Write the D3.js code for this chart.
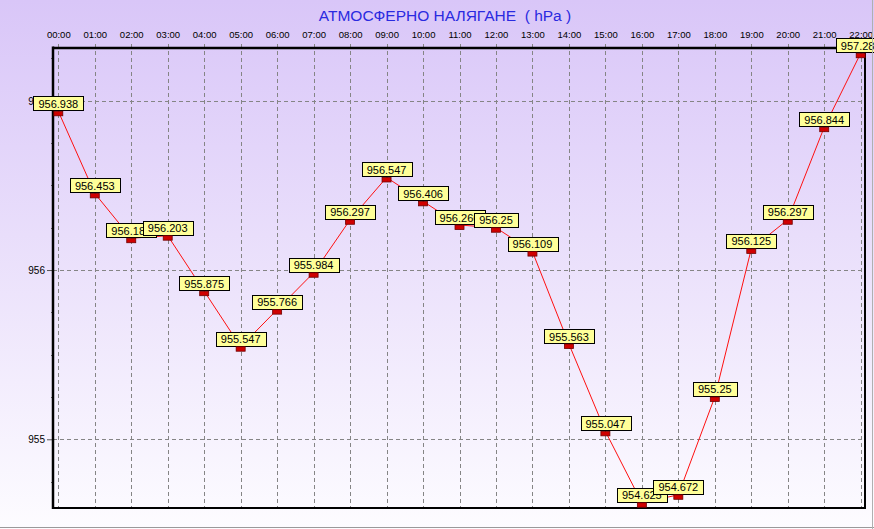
<!DOCTYPE html>
<html>
<head>
<meta charset="utf-8">
<script src="https://cdn.jsdelivr.net/npm/d3@7"></script>
<style>
    html, body { margin: 0; padding: 0; background: #fff; }
    svg { display: block; }
</style>
</head>
<body>
<div id="chart"></div>
<script>
// Hourly readings
const hours = [
    '00:00', '01:00', '02:00', '03:00', '04:00', '05:00', '06:00', '07:00',
    '08:00', '09:00', '10:00', '11:00', '12:00', '13:00', '14:00', '15:00',
    '16:00', '17:00', '18:00', '19:00', '20:00', '21:00', '22:00',
]
const pressure = [
    956.938, 956.453, 956.188, 956.203, 955.875, 955.547, 955.766, 955.984,
    956.297, 956.547, 956.406, 956.266, 956.25, 956.109, 955.563, 955.047,
    954.625, 954.672, 955.25, 956.125, 956.297, 956.844, 957.281,
]
const yTicks = [955, 956, 957]
const yMinorTicks = [954.75, 955.25, 955.5, 955.75, 956.25, 956.5, 956.75, 957.25]
const yDomain = [954.594, 957.312]
const title = 'АТМОСФЕРНО НАЛЯГАНЕ  ( hPa )'

const config = {
    w: 874,
    h: 529,
    plot: { left: 53, right: 865, top: 48, bottom: 508 },
    xInset: { left: 5.3, right: 4.3 }, // first/last hour sit a little inside the frame
    font: '"Liberation Sans", Arial, sans-serif',
}
const p = config.plot

const svg = d3
    .select('#chart')
    .append('svg')
    .attr('width', config.w)
    .attr('height', config.h)
    .style('font-family', config.font)

// Background gradient (lavender to white)
const grad = svg
    .append('defs')
    .append('linearGradient')
    .attr('id', 'bg')
    .attr('x1', 0).attr('y1', 0)
    .attr('x2', 0).attr('y2', 1)
grad.append('stop').attr('offset', '0%').attr('stop-color', '#d9c6f8')
grad.append('stop').attr('offset', '100%').attr('stop-color', '#fdfcff')

svg.append('rect')
    .attr('width', config.w)
    .attr('height', config.h)
    .attr('fill', 'url(#bg)')

// Scales
const x = d3
    .scalePoint()
    .domain(hours)
    .range([p.left + config.xInset.left, p.right - config.xInset.right])

const y = d3.scaleLinear().domain(yDomain).range([p.bottom, p.top])

// Title
svg.append('text')
    .attr('x', 445)
    .attr('y', 21)
    .attr('text-anchor', 'middle')
    .attr('fill', '#2a2ae0')
    .style('font-size', '15.5px')
    .style('white-space', 'pre')
    .text(title)

// Grid
const grid = svg.append('g')
    .attr('stroke', '#858585')
    .attr('stroke-width', 1)
    .attr('stroke-dasharray', '4,3')

grid.selectAll('line.v')
    .data(hours)
    .join('line')
    .attr('class', 'v')
    .attr('x1', (d) => Math.round(x(d)) + 0.5)
    .attr('x2', (d) => Math.round(x(d)) + 0.5)
    .attr('y1', p.top - 4)
    .attr('y2', p.bottom)

grid.selectAll('line.h')
    .data(yTicks)
    .join('line')
    .attr('class', 'h')
    .attr('x1', p.left)
    .attr('x2', p.right)
    .attr('y1', (d) => Math.round(y(d)) + 0.5)
    .attr('y2', (d) => Math.round(y(d)) + 0.5)

// Top axis labels (hours)
const topAxis = d3.axisTop(x).tickSize(0).tickPadding(10)
const gTop = svg.append('g')
    .attr('transform', `translate(0, ${p.top})`)
    .call(topAxis)
gTop.select('.domain').remove()
gTop.selectAll('text')
    .attr('fill', '#000')
    .style('font-size', '9.5px')
    .style('font-family', config.font)

// Left axis labels
const leftAxis = d3.axisLeft(y).tickValues(yTicks).tickSize(6).tickPadding(2).tickFormat(d3.format('d'))
const gLeft = svg.append('g')
    .attr('transform', `translate(${p.left}, 0)`)
    .call(leftAxis)
gLeft.select('.domain').remove()
gLeft.selectAll('line').attr('stroke', '#555')
gLeft.selectAll('text')
    .attr('fill', '#000')
    .style('font-size', '10px')
    .style('font-family', config.font)

svg.append('g')
    .selectAll('line')
    .data(yMinorTicks)
    .join('line')
    .attr('x1', p.left - 2)
    .attr('x2', p.left)
    .attr('y1', (d) => Math.round(y(d)) + 0.5)
    .attr('y2', (d) => Math.round(y(d)) + 0.5)
    .attr('stroke', '#666')

// Frame
const frame = svg.append('g').attr('stroke', '#000')
frame.append('line')
    .attr('x1', p.left).attr('x2', p.left)
    .attr('y1', p.top - 1.5).attr('y2', p.bottom + 1)
    .attr('stroke-width', 2.5)
frame.append('line')
    .attr('x1', p.left).attr('x2', p.right)
    .attr('y1', p.top).attr('y2', p.top)
    .attr('stroke-width', 2.5)
frame.append('line')
    .attr('x1', p.left).attr('x2', p.right + 1)
    .attr('y1', p.bottom).attr('y2', p.bottom)
    .attr('stroke-width', 2)
frame.append('line')
    .attr('x1', p.right).attr('x2', p.right)
    .attr('y1', p.top).attr('y2', p.bottom)
    .attr('stroke-width', 2)

// Series line
const points = hours.map((h, i) => ({ hour: h, value: pressure[i] }))

const line = d3
    .line()
    .x((d) => x(d.hour))
    .y((d) => y(d.value))

svg.append('path')
    .datum(points)
    .attr('d', line)
    .attr('fill', 'none')
    .attr('stroke', '#ff1010')
    .attr('stroke-width', 1)

// Value labels and markers, drawn in order so later ones overlap earlier ones
const labels = svg.append('g')
points.forEach((d) => {
    const px = x(d.hour)
    const py = y(d.value)
    const g = labels.append('g')
    const txt = g.append('text')
        .attr('x', px)
        .attr('y', py - 3.5)
        .attr('text-anchor', 'middle')
        .attr('fill', '#000')
        .style('font-size', '11px')
        .text(d.value)
    const tw = txt.node().getComputedTextLength()
    g.insert('rect', 'text')
        .attr('x', Math.round(px - tw / 2 - 5) + 0.5)
        .attr('y', Math.round(py - 15) + 0.5)
        .attr('width', Math.round(tw + 10))
        .attr('height', 14)
        .attr('fill', '#ffff99')
        .attr('stroke', '#000')
    g.append('rect')
        .attr('x', px - 4.5)
        .attr('y', py)
        .attr('width', 9)
        .attr('height', 4.5)
        .attr('fill', '#d00000')
        .attr('stroke', '#700000')
        .attr('stroke-width', 0.8)
})

// Window border lines
svg.append('line')
    .attr('x1', 0).attr('x2', config.w)
    .attr('y1', config.h - 1.5).attr('y2', config.h - 1.5)
    .attr('stroke', '#9a9a9a')
svg.append('line')
    .attr('x1', config.w - 1.5).attr('x2', config.w - 1.5)
    .attr('y1', 0).attr('y2', config.h)
    .attr('stroke', '#b0b0b0')
</script>
</body>
</html>
